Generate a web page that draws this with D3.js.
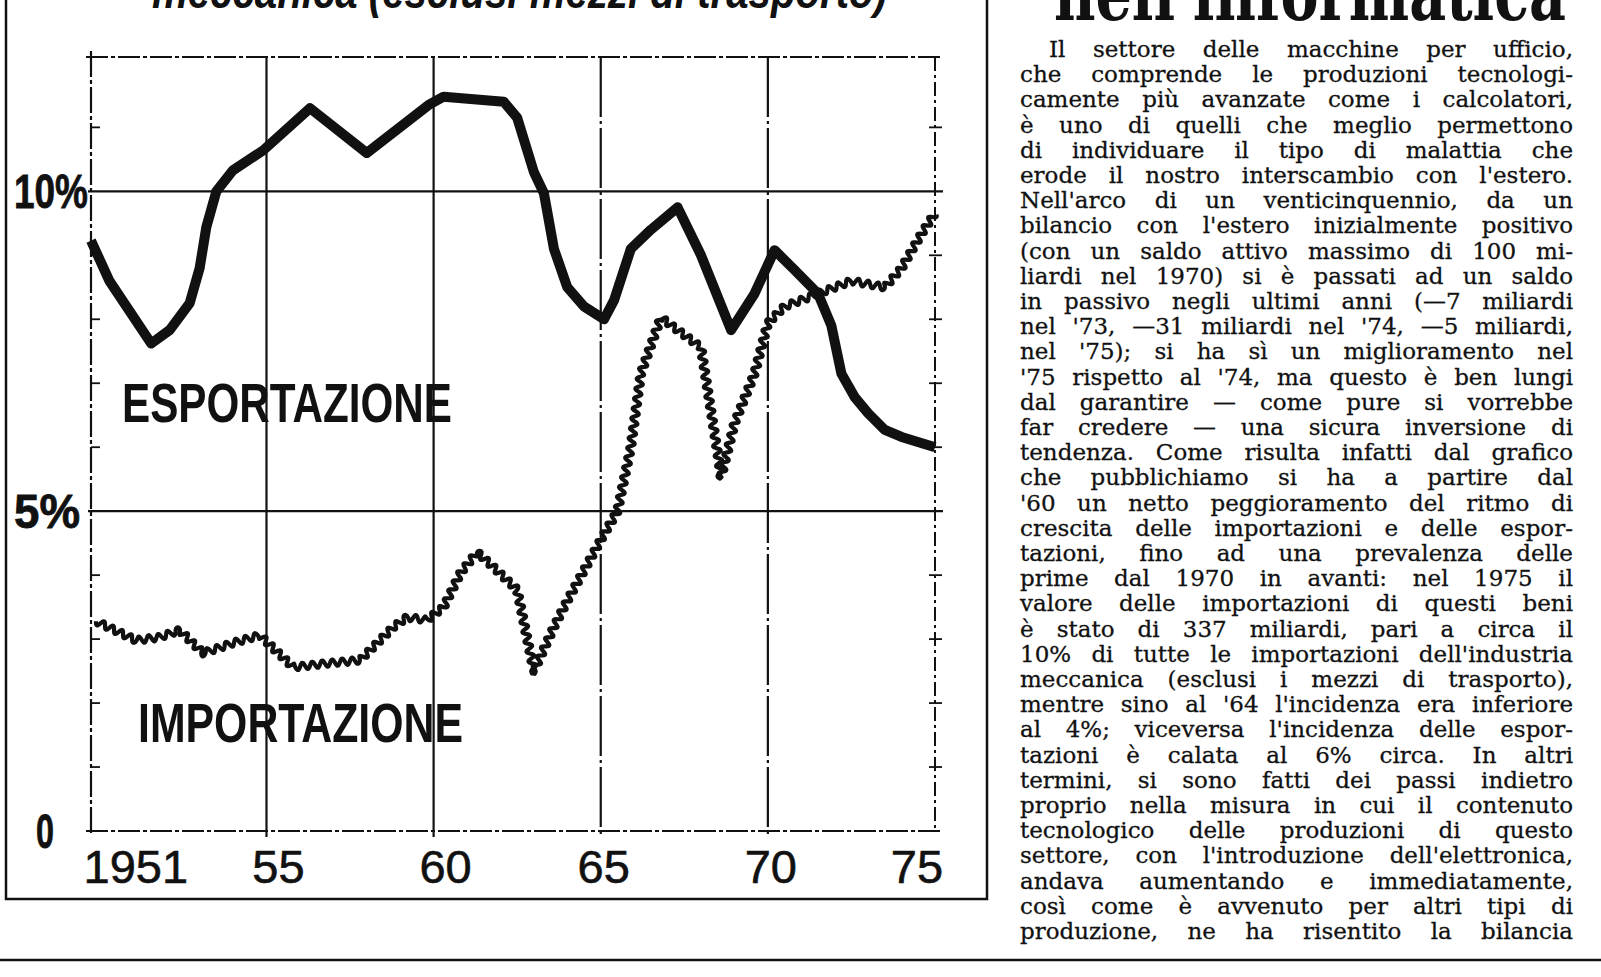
<!DOCTYPE html>
<html>
<head>
<meta charset="utf-8">
<script src="https://cdn.jsdelivr.net/npm/d3@7"></script>
<style>
body { margin: 0; background: #fff; }
svg { display: block; }
</style>
</head>
<body>
<svg id="chart" width="1601" height="977"></svg>
<script>
// export share (%)
var exYears = [1949.75, 1950.3, 1951.55, 1952.1, 1952.7, 1953.0, 1953.2, 1953.5, 1954.0, 1954.9,
    1956.3, 1958.0, 1959.85, 1960.3, 1962.1, 1962.5, 1963.0, 1963.3, 1963.6, 1964.0,
    1964.5, 1965.1, 1965.4, 1965.9, 1966.5, 1967.3, 1968.0, 1968.9, 1969.6, 1970.2,
    1970.8, 1971.5, 1971.9, 1972.2, 1972.6, 1973.0, 1973.5, 1974.0, 1975.0];
var exValues = [9.23, 8.6, 7.62, 7.83, 8.25, 8.8, 9.44, 10.0, 10.33, 10.64,
    11.3, 10.6, 11.35, 11.48, 11.4, 11.15, 10.3, 9.97, 9.1, 8.5,
    8.2, 8.0, 8.3, 9.1, 9.4, 9.75, 9.0, 7.83, 8.4, 9.08,
    8.77, 8.4, 7.9, 7.15, 6.78, 6.53, 6.27, 6.16, 6.0];

// import share (%)
var imYears = [1949.9, 1951.1, 1951.8, 1952.4, 1953.1, 1954.0, 1954.8, 1955.8, 1956.8, 1957.8,
    1958.2, 1958.8, 1959.2, 1959.8, 1960.3, 1960.8, 1961.3, 1961.8, 1962.5, 1963.0,
    1963.6, 1964.0, 1965.0, 1965.5, 1965.9, 1966.2, 1966.8, 1967.2, 1968.0, 1968.5,
    1968.6, 1969.0, 1969.6, 1970.0, 1970.5, 1971.5, 1972.5, 1973.5, 1974.0, 1974.6, 1975.0];
var imValues = [3.28, 2.98, 3.03, 3.14, 2.78, 2.94, 3.06, 2.56, 2.62, 2.67,
    2.88, 3.19, 3.34, 3.3, 3.5, 4.03, 4.36, 4.12, 3.77, 2.5,
    3.19, 3.6, 4.55, 5.0, 6.0, 7.15, 8.03, 7.87, 7.56, 5.9,
    5.53, 6.37, 7.15, 7.94, 8.2, 8.4, 8.6, 8.5, 8.8, 9.34, 9.66];

var gridYears = [1955, 1960, 1965, 1970];
var tickYears = [1951, 1955, 1960, 1965, 1970, 1975];
var tickLabels = ["1951", "55", "60", "65", "70", "75"];
var gridValues = [5, 10];
var yLabelValues = [10, 5, 0];
var yLabels = ["10%", "5%", "0"];
var minorValues = [1, 2, 3, 4, 6, 7, 8, 9, 11];

var article = [
    "Il settore delle macchine per ufficio,",
    "che comprende le produzioni tecnologi-",
    "camente più avanzate come i calcolatori,",
    "è uno di quelli che meglio permettono",
    "di individuare il tipo di malattia che",
    "erode il nostro interscambio con l'estero.",
    "Nell'arco di un venticinquennio, da un",
    "bilancio con l'estero inizialmente positivo",
    "(con un saldo attivo massimo di 100 mi-",
    "liardi nel 1970) si è passati ad un saldo",
    "in passivo negli ultimi anni (—7 miliardi",
    "nel '73, —31 miliardi nel '74, —5 miliardi,",
    "nel '75); si ha sì un miglioramento nel",
    "'75 rispetto al '74, ma questo è ben lungi",
    "dal garantire — come pure si vorrebbe",
    "far credere — una sicura inversione di",
    "tendenza. Come risulta infatti dal grafico",
    "che pubblichiamo si ha a partire dal",
    "'60 un netto peggioramento del ritmo di",
    "crescita delle importazioni e delle espor-",
    "tazioni, fino ad una prevalenza delle",
    "prime dal 1970 in avanti: nel 1975 il",
    "valore delle importazioni di questi beni",
    "è stato di 337 miliardi, pari a circa il",
    "10% di tutte le importazioni dell'industria",
    "meccanica (esclusi i mezzi di trasporto),",
    "mentre sino al '64 l'incidenza era inferiore",
    "al 4%; viceversa l'incidenza delle espor-",
    "tazioni è calata al 6% circa. In altri",
    "termini, si sono fatti dei passi indietro",
    "proprio nella misura in cui il contenuto",
    "tecnologico delle produzioni di questo",
    "settore, con l'introduzione dell'elettronica,",
    "andava aumentando e immediatamente,",
    "così come è avvenuto per altri tipi di",
    "produzione, ne ha risentito la bilancia"
];

var svg = d3.select("#chart");
var ink = "#111";

var x = d3.scaleLinear().domain([1949.75, 1975]).range([91, 935]);
var y = d3.scaleLinear().domain([0, 12.1]).range([831, 57]);

// frame of the chart box (top is cut off) and page rule
svg.append("path")
    .attr("d", "M6,0V899H987V0")
    .attr("fill", "none").attr("stroke", ink).attr("stroke-width", 2.5);
svg.append("line")
    .attr("x1", 0).attr("x2", 1601).attr("y1", 960).attr("y2", 960)
    .attr("stroke", ink).attr("stroke-width", 2.5);

// cut-off headings at the top
svg.append("text")
    .attr("x", 152).attr("y", 8)
    .attr("font-family", "Liberation Sans").attr("font-weight", "bold").attr("font-style", "italic")
    .attr("font-size", 48).attr("textLength", 735).attr("lengthAdjust", "spacingAndGlyphs")
    .attr("fill", ink)
    .text("meccanica (esclusi mezzi di trasporto)");
svg.append("text")
    .attr("x", 1054).attr("y", 20)
    .attr("font-family", "DejaVu Serif").attr("font-weight", "bold")
    .attr("font-size", 74).attr("textLength", 512).attr("lengthAdjust", "spacingAndGlyphs")
    .attr("fill", ink)
    .text("nell'informatica");

var grid = svg.append("g").attr("stroke", ink).attr("fill", "none");

// outer plot lines, drawn dash-dot like the print
grid.append("line")
    .attr("x1", 86).attr("x2", 943).attr("y1", y(12.1)).attr("y2", y(12.1))
    .attr("stroke-width", 2).attr("stroke-dasharray", "22 3 4 3");
grid.append("line")
    .attr("x1", 86).attr("x2", 943).attr("y1", y(0)).attr("y2", y(0))
    .attr("stroke-width", 2).attr("stroke-dasharray", "22 3 4 3");
grid.append("line")
    .attr("x1", x.range()[0]).attr("x2", x.range()[0]).attr("y1", y(12.1) - 6).attr("y2", y(0) + 4)
    .attr("stroke-width", 2.2).attr("stroke-dasharray", "26 3 4 3");
grid.append("line")
    .attr("x1", x.range()[1]).attr("x2", x.range()[1]).attr("y1", y(12.1)).attr("y2", y(0))
    .attr("stroke-width", 2).attr("stroke-dasharray", "14 4 3 4");

grid.selectAll(".hgrid")
    .data(gridValues)
    .enter().append("line")
    .attr("class", "hgrid")
    .attr("x1", 88).attr("x2", 943)
    .attr("y1", function (d) { return y(d); })
    .attr("y2", function (d) { return y(d); })
    .attr("stroke-width", 2.4);

grid.selectAll(".vgrid")
    .data(gridYears)
    .enter().append("line")
    .attr("class", "vgrid")
    .attr("x1", function (d) { return x(d); })
    .attr("x2", function (d) { return x(d); })
    .attr("y1", y(12.1)).attr("y2", y(0) + 6)
    .attr("stroke-width", 2.2)
    .attr("stroke-dasharray", function (d, i) { return i < 2 ? null : "60 4 3 4"; });

// small ticks every 1%
grid.selectAll(".ltick")
    .data(minorValues)
    .enter().append("line")
    .attr("class", "ltick")
    .attr("x1", x.range()[0]).attr("x2", x.range()[0] + 9)
    .attr("y1", function (d) { return y(d); })
    .attr("y2", function (d) { return y(d); })
    .attr("stroke-width", 1.8);
grid.selectAll(".rtick")
    .data(minorValues)
    .enter().append("line")
    .attr("class", "rtick")
    .attr("x1", x.range()[1] - 6).attr("x2", x.range()[1] + 7)
    .attr("y1", function (d) { return y(d); })
    .attr("y2", function (d) { return y(d); })
    .attr("stroke-width", 1.8);

// year labels
svg.append("g")
    .attr("font-family", "Liberation Sans").attr("font-size", 47)
    .attr("text-anchor", "middle").attr("fill", ink)
    .attr("stroke", ink).attr("stroke-width", 0.6)
    .selectAll("text")
    .data(tickYears)
    .enter().append("text")
    .attr("x", function (d, i) { return x(d) + (i == 5 ? -18 : (i == 1 || i == 2 ? 12 : 3)); })
    .attr("y", 883)
    .text(function (d, i) { return tickLabels[i]; });

// percent labels, bold condensed
svg.append("g")
    .attr("font-family", "Liberation Sans").attr("font-weight", "bold").attr("font-size", 48)
    .attr("fill", ink).attr("stroke", ink).attr("stroke-width", 0.8)
    .selectAll("text")
    .data(yLabelValues)
    .enter().append("text")
    .attr("x", function (d, i) { return [14, 14, 36][i]; })
    .attr("y", function (d) { return y(d) + 17; })
    .attr("textLength", function (d, i) { return [74, 66, 18][i]; })
    .attr("lengthAdjust", "spacingAndGlyphs")
    .text(function (d, i) { return yLabels[i]; });

// series
var line = d3.line()
    .x(function (d) { return x(d[0]); })
    .y(function (d) { return y(d[1]); });

var exData = exYears.map(function (d, i) { return [d, exValues[i]]; });
var imData = imYears.map(function (d, i) { return [d, imValues[i]]; });

svg.append("path")
    .attr("d", line(exData))
    .attr("fill", "none").attr("stroke", ink)
    .attr("stroke-width", 10).attr("stroke-linejoin", "round");

// the import line is printed as a tight squiggle, so wiggle along the normal
var base = svg.append("path").attr("d", line(imData)).attr("fill", "none").attr("stroke", "none");
function wavy(node, amp, period) {
    var L = node.getTotalLength(), pts = [];
    for (var s = 0; s <= L; s += 0.8) {
        var a = node.getPointAtLength(Math.max(0, s - 3));
        var b = node.getPointAtLength(Math.min(L, s + 3));
        var p = node.getPointAtLength(s);
        var dx = b.x - a.x, dy = b.y - a.y, n = Math.hypot(dx, dy) || 1;
        var o = amp * Math.sin(2 * Math.PI * s / period);
        pts.push([p.x - dy / n * o, p.y + dx / n * o]);
    }
    return d3.line()(pts);
}
svg.append("path")
    .attr("d", wavy(base.node(), 3.4, 10))
    .attr("fill", "none").attr("stroke", ink)
    .attr("stroke-width", 4.2).attr("stroke-linejoin", "round");
base.remove();

// series names
svg.append("text")
    .attr("x", 122).attr("y", 422)
    .attr("font-family", "Liberation Sans").attr("font-weight", "bold").attr("font-size", 56)
    .attr("textLength", 330).attr("lengthAdjust", "spacingAndGlyphs").attr("fill", ink)
    .text("ESPORTAZIONE");
svg.append("text")
    .attr("x", 138).attr("y", 742)
    .attr("font-family", "Liberation Sans").attr("font-weight", "bold").attr("font-size", 56)
    .attr("textLength", 325).attr("lengthAdjust", "spacingAndGlyphs").attr("fill", ink)
    .text("IMPORTAZIONE");

// article column, justified word by word
var colLeft = 1020, colRight = 1573, indent = 29, textTop = 57, step = 25.2;
var col = svg.append("g")
    .attr("font-family", "DejaVu Serif").attr("font-size", 23)
    .attr("fill", ink).attr("stroke", ink).attr("stroke-width", 0.3);
article.forEach(function (row, i) {
    var x0 = i == 0 ? colLeft + indent : colLeft;
    var g = col.append("g").attr("transform", "translate(" + x0 + "," + (textTop + i * step) + ")");
    var t = g.append("text");
    var words = row.split(" ");
    var spans = words.map(function (w) { return t.append("tspan").text(w); });
    var widths = spans.map(function (s) { return s.node().getComputedTextLength(); });
    var total = d3.sum(widths), avail = colRight - x0;
    var gap = (avail - total) / (words.length - 1);
    if (gap < 6) {
        var k = (avail - 6 * (words.length - 1)) / total;
        t.attr("transform", "scale(" + k + ",1)");
        gap = 6 / k;
    }
    var cx = 0;
    spans.forEach(function (s, j) {
        s.attr("x", cx);
        cx += widths[j] + gap;
    });
});
</script>
</body>
</html>
